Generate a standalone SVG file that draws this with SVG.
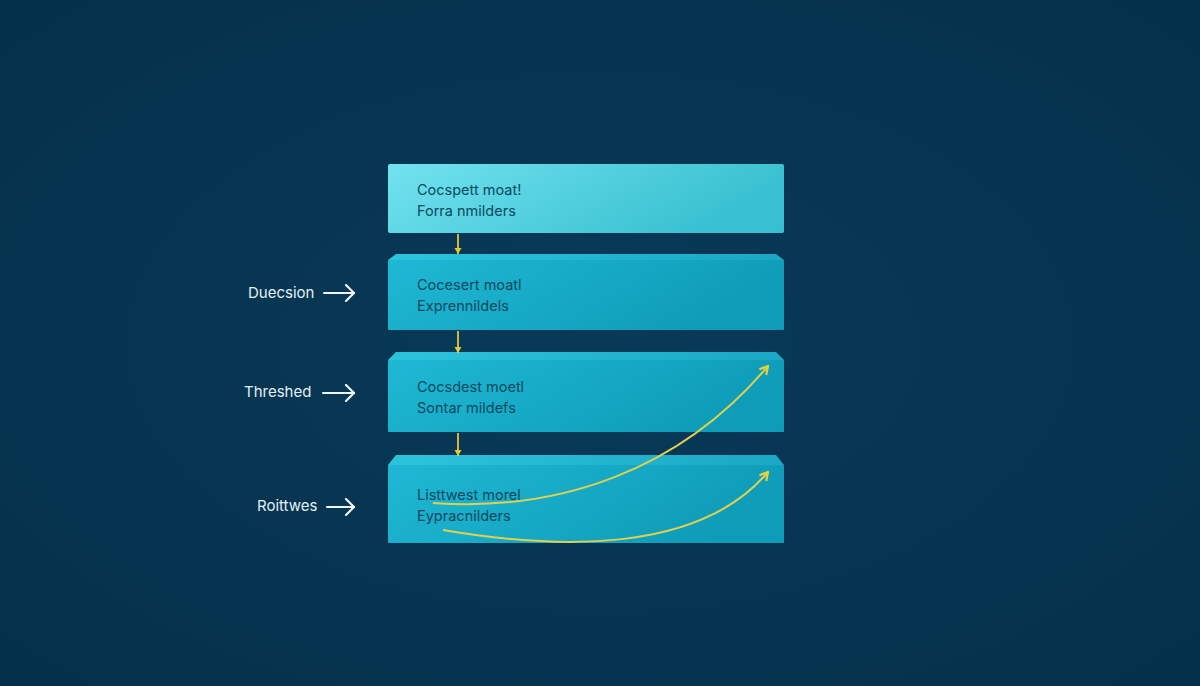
<svg xmlns="http://www.w3.org/2000/svg" width="1200" height="686" viewBox="0 0 1200 686">
<defs>
<radialGradient id="bg" cx="50%" cy="50%" r="70%">
<stop offset="0" stop-color="#083a58"/>
<stop offset="1" stop-color="#05304b"/>
</radialGradient>
<linearGradient id="g1" x1="0" y1="0" x2="1" y2="0.3">
<stop offset="0" stop-color="#72e2ef"/>
<stop offset="1" stop-color="#38c0d0"/>
</linearGradient>
<linearGradient id="gf" x1="0" y1="0" x2="1" y2="0.3">
<stop offset="0" stop-color="#1fb8d4"/>
<stop offset="1" stop-color="#0e9cb8"/>
</linearGradient>
<linearGradient id="gt" x1="0" y1="0" x2="1" y2="0">
<stop offset="0" stop-color="#2cc4dc"/>
<stop offset="1" stop-color="#1aa8c4"/>
</linearGradient>
<marker id="ay" markerWidth="12" markerHeight="12" refX="9" refY="6" orient="auto" markerUnits="userSpaceOnUse">
<path d="M1,1.5 L9,6 L1,10.5" fill="none" stroke="#e6d040" stroke-width="2.2" stroke-linejoin="round"/>
</marker>
<marker id="ad" markerWidth="10" markerHeight="10" refX="7" refY="5" orient="auto" markerUnits="userSpaceOnUse">
<path d="M1,1.5 L7,5 L1,8.5 Z" fill="#e6c832"/>
</marker>
<marker id="aw" markerWidth="16" markerHeight="18" refX="14" refY="9" orient="auto" markerUnits="userSpaceOnUse">
<path d="M6,1 L14,9 L6,17" fill="none" stroke="#eef6fa" stroke-width="2.2" stroke-linecap="round" stroke-linejoin="round"/>
</marker>
</defs>
<style>
.t{font-family:"Inter","Liberation Sans",sans-serif;font-size:14.5px;fill:#0b4860}
.lb{font-family:"Inter","Liberation Sans",sans-serif;font-size:15px;fill:#e4eff5}
.wa{stroke:#eef6fa;stroke-width:2.2;fill:none;stroke-linecap:round}
.da{stroke:#e6c832;stroke-width:1.8;fill:none}
.cv{stroke:#e0d050;stroke-width:2;fill:none}
</style>
<rect width="1200" height="686" fill="url(#bg)"/>

<g id="node1">
<rect x="388" y="164" width="396" height="69" rx="2" fill="url(#g1)"/>
<text class="t" x="417" y="195">Cocspett moat!</text>
<text class="t" x="417" y="216">Forra nmilders</text>
</g>

<g id="node2">
<path d="M396,254 L776,254 L784,260 L388,260 Z" fill="url(#gt)"/>
<rect x="388" y="260" width="396" height="70" rx="1" fill="url(#gf)"/>
<text class="t" x="417" y="290">Cocesert moatl</text>
<text class="t" x="417" y="311">Exprennildels</text>
</g>

<g id="node3">
<path d="M396,352 L776,352 L784,360 L388,360 Z" fill="url(#gt)"/>
<rect x="388" y="360" width="396" height="72" rx="1" fill="url(#gf)"/>
<text class="t" x="417" y="392">Cocsdest moetl</text>
<text class="t" x="417" y="413">Sontar mildefs</text>
</g>

<g id="node4">
<path d="M396,455 L776,455 L784,465 L388,465 Z" fill="url(#gt)"/>
<rect x="388" y="465" width="396" height="78" rx="1" fill="url(#gf)"/>
<text class="t" x="417" y="500">Listtwest morel</text>
<text class="t" x="417" y="521">Eypracnilders</text>
</g>

<g id="labels">
<text class="lb" x="248" y="298">Duecsion</text>
<text class="lb" x="244" y="397">Threshed</text>
<text class="lb" x="257" y="511">Roittwes</text>
</g>

<g id="connectors">
<line class="wa" x1="324" y1="293" x2="354" y2="293" marker-end="url(#aw)"/>
<line class="wa" x1="323" y1="393" x2="354" y2="393" marker-end="url(#aw)"/>
<line class="wa" x1="327" y1="507" x2="354" y2="507" marker-end="url(#aw)"/>
<line class="da" x1="458" y1="234" x2="458" y2="254" marker-end="url(#ad)"/>
<line class="da" x1="458" y1="331" x2="458" y2="353" marker-end="url(#ad)"/>
<line class="da" x1="458" y1="433" x2="458" y2="456" marker-end="url(#ad)"/>
<path class="cv" d="M433,503 C560,512 680,470 768,366" marker-end="url(#ay)"/>
<path class="cv" d="M443,530 C560,550 700,553 768,472" marker-end="url(#ay)"/>
</g>
</svg>
